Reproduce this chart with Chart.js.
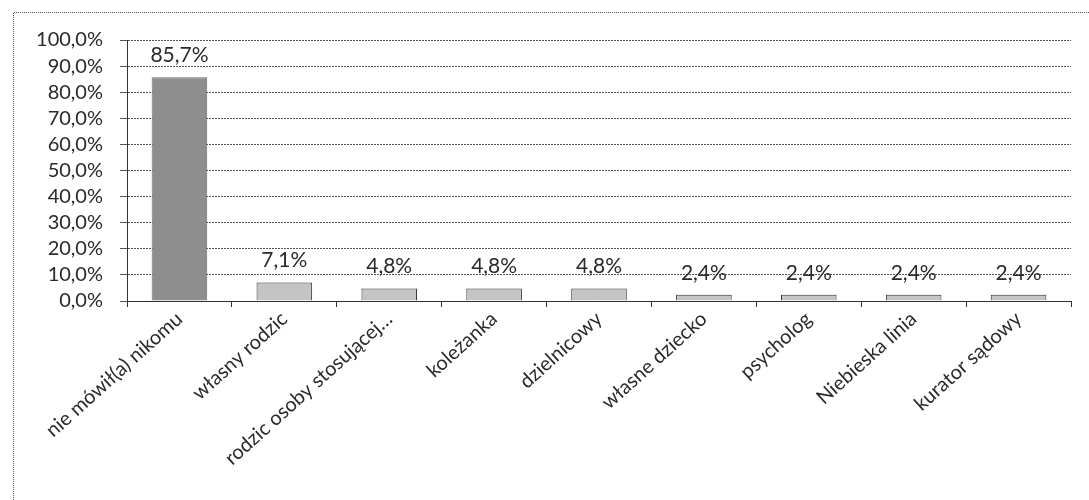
<!DOCTYPE html>
<html><head><meta charset="utf-8">
<script src="https://cdn.jsdelivr.net/npm/chart.js@4/dist/chart.umd.min.js"></script>
<style>html,body{margin:0;padding:0;background:#fff;}#wrap{width:1089px;height:500px;position:relative;}</style>
</head><body><div id="wrap"><canvas id="c" width="1089" height="500"></canvas></div>
<script>
const categories = ["nie mówił(a) nikomu","własny rodzic","rodzic osoby stosującej…","koleżanka","dzielnicowy","własne dziecko","psycholog","Niebieska linia","kurator sądowy"];
const values = [85.7, 7.1, 4.8, 4.8, 4.8, 2.4, 2.4, 2.4, 2.4];
const yTicks = [0,10,20,30,40,50,60,70,80,90,100];

const fmt = v => v.toFixed(1).replace('.', ',') + '%';
const FONT = 'Lato, "Open Sans", sans-serif';

const framePlugin = {
  id: 'frame',
  beforeDraw(chart) {
    const ctx = chart.ctx;
    ctx.save();
    ctx.strokeStyle = '#555';
    ctx.lineWidth = 1;
    ctx.setLineDash([1,1]);
    ctx.beginPath();
    ctx.moveTo(13.5, 520); ctx.lineTo(13.5, 12.5); ctx.lineTo(1100, 12.5);
    ctx.stroke();
    ctx.restore();
  }
};
const labelPlugin = {
  id: 'vals',
  afterDatasetsDraw(chart) {
    const ctx = chart.ctx;
    const meta = chart.getDatasetMeta(0);
    ctx.save();
    ctx.font = '21px ' + FONT;
    ctx.fillStyle = '#2a2a2a';
    ctx.textAlign = 'center';
    ctx.textBaseline = 'alphabetic';
    meta.data.forEach((bar, i) => {
      ctx.fillText(fmt(values[i]), bar.x, bar.y - 15);
    });
    ctx.restore();
  }
};

new Chart(document.getElementById('c'), {
  type: 'bar',
  data: {
    labels: categories,
    datasets: [{
      data: values,
      backgroundColor: values.map((v,i) => i === 0 ? '#8e8e8e' : '#c4c4c4'),
      borderColor: values.map((v,i) => i === 0 ? '#6a6a6a' : '#333'),
      borderWidth: 1,
      categoryPercentage: 1,
      barPercentage: 0.53
    }]
  },
  options: {
    responsive: false,
    animation: false,
    layout: { padding: { left: 0, right: 18, top: 40, bottom: 0 } },
    plugins: { legend: { display: false }, tooltip: { enabled: false } },
    scales: {
      x: {
        grid: { display: true, drawOnChartArea: false, drawTicks: true, tickLength: 6, color: '#333', offset: true },
        border: { color: '#333' },
        ticks: { maxRotation: 42, minRotation: 42, color: '#2a2a2a', font: { size: 20, family: FONT }, padding: 0, autoSkip: false },
        afterFit(scale) { scale.height = 199; }
      },
      y: {
        min: 0, max: 100,
        afterBuildTicks(scale) { scale.ticks = yTicks.map(v => ({ value: v })); },
        grid: { color: '#555', tickLength: 7, lineWidth: 1 },
        border: { color: '#333', dash: [2,1] },
        ticks: { autoSkip: false, color: '#2a2a2a', font: { size: 20, family: FONT }, padding: 17, callback: v => fmt(v) },
        afterFit(scale) { scale.width = 127; }
      }
    }
  },
  plugins: [framePlugin, labelPlugin]
});
</script>
</body></html>
